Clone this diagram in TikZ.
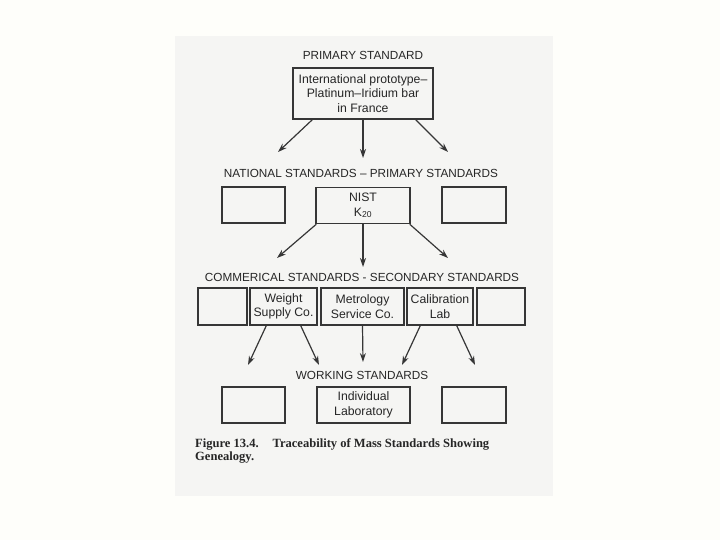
\documentclass[tikz,border=0pt]{standalone}
\usepackage{fontspec}
\usepackage{tikz}
\usetikzlibrary{arrows.meta}
\newfontfamily\diagfont{Liberation Sans}
\newfontfamily\capfont{Liberation Serif}
\definecolor{pagec}{HTML}{FEFEFA}
\definecolor{scanc}{HTML}{F5F5F3}
\definecolor{inkc}{HTML}{363636}
\definecolor{textc}{HTML}{262626}

\tikzset{
  stdbox/.style={draw=inkc, line width=1.5bp, inner sep=0pt, minimum height=36bp,
    align=center, text=textc, font=\diagfont\fontsize{12.3}{14.5}\selectfont},
  heading/.style={inner sep=0pt, text=textc, font=\diagfont\fontsize{11.8}{14}\selectfont},
  trace/.style={draw=inkc, line width=1.2bp, -{Stealth[length=9bp,width=6bp]}},
}

\begin{document}
\begin{tikzpicture}[x=1bp, y=-1bp]
  \fill[pagec] (0,0) rectangle (720,540);
  \useasboundingbox (0,0) rectangle (720,540);
  \fill[scanc] (175,36) rectangle (553,496);

  % primary standard
  \node[heading] (hprim) at (363,55) {PRIMARY STANDARD};
  \node[stdbox, minimum width=140bp, minimum height=51bp] (proto) at (363,93.5)
    {International prototype–\\Platinum–Iridium bar\\in France};
  \coordinate (natL) at (278,152);
  \coordinate (natM) at (363,158);
  \coordinate (natR) at (448,152);
  \draw[trace] ([xshift=20bp]proto.south west) -- (natL);
  \draw[trace] (proto.south) -- (natM);
  \draw[trace] ([xshift=-18bp]proto.south east) -- (natR);

  % national standards
  \node[heading] (hnat) at (361,173) {NATIONAL STANDARDS – PRIMARY STANDARDS};
  \node[stdbox, minimum width=63bp] (natA) at (253.5,205) {};
  \node[stdbox, minimum width=94bp] (nist) at (363,205.5) {NIST\\K\textsubscript{20}};
  \node[stdbox, minimum width=64bp] (natB) at (474,205) {};
  \coordinate (comL) at (277,258);
  \coordinate (comM) at (363,267);
  \coordinate (comR) at (448,258);
  \draw[trace] ([xshift=1bp]nist.south west) -- (comL);
  \draw[trace] (nist.south) -- (comM);
  \draw[trace] ([xshift=-1bp]nist.south east) -- (comR);

  % commercial standards
  \node[heading] (hcom) at (362,277) {COMMERICAL STANDARDS - SECONDARY STANDARDS};
  \node[stdbox, minimum width=49bp, minimum height=37bp] (comA) at (222.5,306.5) {};
  \node[stdbox, minimum width=67bp, minimum height=37bp] (weight) at (283.5,306.5) {Weight\\Supply Co.};
  \node[stdbox, minimum width=83bp, minimum height=37bp] (metro) at (362.5,306.5) {Metrology\\Service Co.};
  \node[stdbox, minimum width=66bp, minimum height=37bp] (calib) at (440,306.5) {Calibration\\Lab};
  \node[stdbox, minimum width=48bp, minimum height=37bp] (comB) at (501,306.5) {};
  \coordinate (wrk1) at (248,365);
  \coordinate (wrk2) at (319,365);
  \coordinate (wrk3) at (363,362);
  \coordinate (wrk4) at (402,365);
  \coordinate (wrk5) at (475,365);
  \draw[trace] ([xshift=17bp]weight.south west) -- (wrk1);
  \draw[trace] ([xshift=-17bp]weight.south east) -- (wrk2);
  \draw[trace] (metro.south) -- (wrk3);
  \draw[trace] ([xshift=14bp]calib.south west) -- (wrk4);
  \draw[trace] ([xshift=-17bp]calib.south east) -- (wrk5);

  % working standards
  \node[heading] (hwork) at (362,375) {WORKING STANDARDS};
  \node[stdbox, minimum width=63bp] (workA) at (253.5,405) {};
  \node[stdbox, minimum width=93bp] (indiv) at (363.5,405) {Individual\\Laboratory};
  \node[stdbox, minimum width=64bp] (workB) at (474,405) {};

  % caption
  \node[anchor=north west, inner sep=0pt, align=left, text=textc,
    font=\capfont\bfseries\fontsize{12.6}{14}\selectfont] (caption) at (195,438)
    {Figure 13.4.\hspace{1.1em}Traceability of Mass Standards Showing\\Genealogy.};
\end{tikzpicture}
\end{document}
